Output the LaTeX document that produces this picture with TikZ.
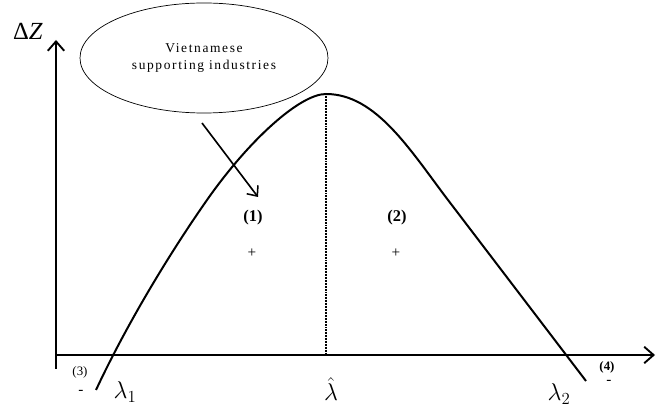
\documentclass[tikz,border=0pt]{standalone}
\usepackage{fontspec}
\setmainfont{Liberation Serif}
\usetikzlibrary{arrows.meta,shapes.geometric}

\begin{document}
\begin{tikzpicture}[x=0.03cm, y=-0.03cm,
    axis/.style={line width=1.8pt, -{Straight Barb[length=8pt,width=14pt,line width=1.6pt]}},
    curve/.style={line width=1.7pt},
    bubble/.style={ellipse, draw, line width=0.6pt, minimum width=7.44cm, minimum height=3.3cm, align=center, font=\fontsize{11.5}{14}\selectfont\addfontfeature{LetterSpace=12}},
    region/.style={font=\fontsize{14}{16}\selectfont\bfseries},
    sign/.style={font=\fontsize{13}{14}\selectfont},
    lam/.style={font=\fontsize{20}{22}\selectfont}
]
    \clip (0,0) rectangle (663,405);

    % axes
    \coordinate (ybot) at (56,369);
    \coordinate (ytip) at (56,40);
    \coordinate (xstart) at (56,355);
    \coordinate (xtip) at (655,355);
    \draw[axis] (ybot) -- (ytip);
    \draw[axis] (xstart) -- (xtip);
    \node (dz) at (28,31) {\fontsize{21}{23}\selectfont Δ\textit{Z}};

    % the curve
    \coordinate (start) at (96,390);
    \coordinate (bend1) at (207,200);
    \coordinate (peak) at (326,94);
    \coordinate (bend2) at (448,200);
    \coordinate (stop) at (586,381);
    \draw[curve] (start) .. controls (124,330) and (165,260) .. (bend1)
        .. controls (249,140) and (300,94) .. (peak)
        .. controls (376,94) and (410,150) .. (bend2) -- (stop);
    \coordinate (foot) at (326,355);
    \draw[line width=1.6pt, dash pattern=on 0.8pt off 0.5pt] (peak) -- (foot);

    % bubble and its arrow
    \node[bubble] (vsi) at (204,58) {Vietnamese\\supporting industries};
    \coordinate (arrstart) at (202,123);
    \coordinate (arrend) at (258,197);
    \draw[line width=1.4pt, -{Straight Barb[length=7pt,width=12pt,line width=1.3pt]}] (arrstart) -- (arrend);

    % regions
    \node[region] (r1) at (253,218) {(1)};
    \node[sign] (p1) at (252,253) {+};
    \node[region] (r2) at (397,218) {(2)};
    \node[sign] (p2) at (396,253) {+};
    \node[font=\fontsize{11}{12}\selectfont] (r3) at (80,372) {(3)};
    \node[sign] (m3) at (81,392) {-};
    \node[font=\fontsize{11}{12}\selectfont\bfseries] (r4) at (607,367) {(4)};
    \node[sign] (m4) at (609,382) {-};

    % labels on the axis
    \node[lam] (l1) at (125,392) {$\lambda_1$};
    \node[lam] (lh) at (331,389) {$\hat{\lambda}$};
    \node[lam] (l2) at (559,394) {$\lambda_2$};
    \node[lam] (lx) at (672,384) {$\lambda$};
\end{tikzpicture}
\end{document}
